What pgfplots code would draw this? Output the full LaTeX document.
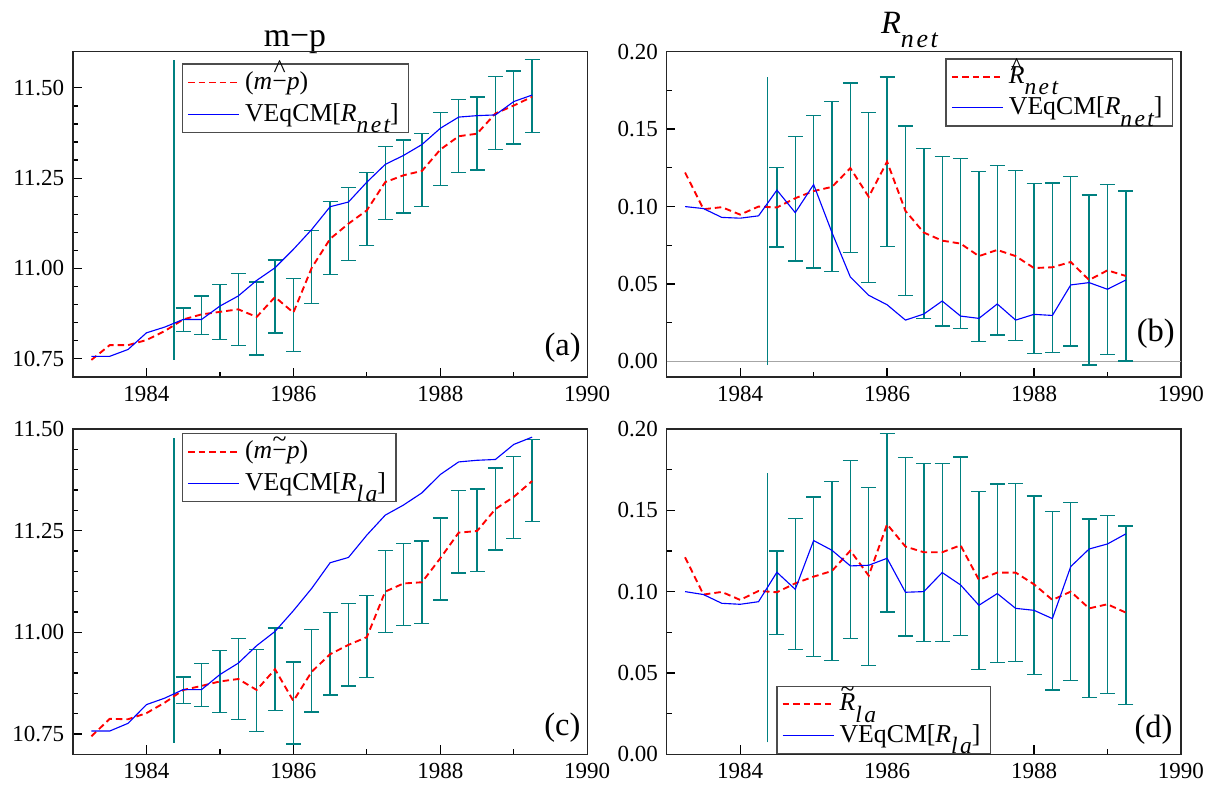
\documentclass[border=0pt]{standalone}
\usepackage{fontspec}
\setmainfont{Liberation Serif}
\usepackage{pgfplots}
\usepackage{pgfplotstable}
\pgfplotsset{compat=1.18}

\definecolor{errteal}{RGB}{0,128,128}
\definecolor{fcred}{RGB}{255,0,0}
\definecolor{fcblue}{RGB}{0,0,255}

% subscripts set the way the original software does it: big, low, spaced
\newcommand{\subsc}[2][9.4]{\raisebox{-0.45em}{\fontsize{#1}{#1}\selectfont\itshape\addfontfeature{LetterSpace=10}#2}}
\newcommand{\hatminus}{\ooalign{−\cr\hidewidth\raisebox{0.48em}{\char"5E}\hidewidth\cr}}
\newcommand{\tildeminus}{\ooalign{−\cr\hidewidth\raisebox{0.45em}{\char"7E}\hidewidth\cr}}
\newcommand{\hatR}{\ooalign{\textit{R}\cr\hidewidth\raisebox{0.3em}{\char"5E}\hidewidth\cr}}
\newcommand{\tildeR}{\ooalign{\textit{R}\cr\hidewidth\raisebox{0.5em}{\char"7E}\hidewidth\cr}}

% m-p: forecasts from the R_net model (a) and the R_la model (c), VEqCM path
\pgfplotstableread{
x       net    la     veq
1983.25 10.747 10.744 10.757
1983.50 10.788 10.787 10.757
1983.75 10.788 10.786 10.776
1984.00 10.802 10.801 10.822
1984.25 10.827 10.827 10.838
1984.50 10.859 10.858 10.859
1984.75 10.873 10.868 10.859
1985.00 10.880 10.879 10.896
1985.25 10.887 10.885 10.924
1985.50 10.866 10.858 10.967
1985.75 10.921 10.909 11.002
1986.00 10.878 10.831 11.053
1986.25 11.002 10.903 11.108
1986.50 11.082 10.946 11.171
1986.75 11.124 10.969 11.184
1987.00 11.161 10.988 11.239
1987.25 11.239 11.100 11.288
1987.50 11.258 11.120 11.313
1987.75 11.270 11.123 11.343
1988.00 11.329 11.182 11.388
1988.25 11.366 11.245 11.419
1988.50 11.373 11.249 11.423
1988.75 11.429 11.303 11.425
1989.00 11.451 11.333 11.462
1989.25 11.475 11.372 11.480
}\mpdata

% error bands for m-p (centre, half width)
\pgfplotstableread{
x       net     la      e
1984.50 10.858 10.857 0.033
1984.75 10.871 10.870 0.053
1985.00 10.880 10.879 0.076
1985.25 10.887 10.885 0.100
1985.50 10.862 10.857 0.101
1985.75 10.923 10.909 0.101
1986.00 10.871 10.826 0.101
1986.25 11.004 10.905 0.101
1986.50 11.084 10.947 0.101
1986.75 11.124 10.969 0.101
1987.00 11.164 10.990 0.101
1987.25 11.237 11.100 0.101
1987.50 11.255 11.118 0.101
1987.75 11.272 11.123 0.101
1988.00 11.330 11.180 0.101
1988.25 11.366 11.247 0.101
1988.50 11.374 11.251 0.101
1988.75 11.430 11.303 0.101
1989.00 11.446 11.331 0.101
1989.25 11.477 11.373 0.101
}\mperr

% R_net
\pgfplotstableread{
x       fc     veq
1983.25 0.1220 0.1000
1983.50 0.0983 0.0987
1983.75 0.0996 0.0930
1984.00 0.0948 0.0925
1984.25 0.1000 0.0940
1984.50 0.0994 0.1106
1984.75 0.1054 0.0961
1985.00 0.1100 0.1142
1985.25 0.1127 0.0832
1985.50 0.1248 0.0545
1985.75 0.1063 0.0427
1986.00 0.1290 0.0366
1986.25 0.0972 0.0267
1986.50 0.0832 0.0306
1986.75 0.0780 0.0390
1987.00 0.0761 0.0293
1987.25 0.0680 0.0278
1987.50 0.0720 0.0371
1987.75 0.0680 0.0267
1988.00 0.0603 0.0304
1988.25 0.0608 0.0297
1988.50 0.0642 0.0494
1988.75 0.0526 0.0509
1989.00 0.0588 0.0466
1989.25 0.0552 0.0526
}\netdata

\pgfplotstableread{
x       y      e
1984.50 0.0996 0.0257
1984.75 0.1051 0.0402
1985.00 0.1095 0.0492
1985.25 0.1131 0.0549
1985.50 0.1250 0.0547
1985.75 0.1058 0.0549
1986.00 0.1289 0.0548
1986.25 0.0972 0.0547
1986.50 0.0826 0.0548
1986.75 0.0777 0.0548
1987.00 0.0761 0.0548
1987.25 0.0677 0.0548
1987.50 0.0719 0.0548
1987.75 0.0684 0.0548
1988.00 0.0601 0.0548
1988.25 0.0605 0.0548
1988.50 0.0647 0.0548
1988.75 0.0526 0.0548
1989.00 0.0593 0.0548
1989.25 0.0552 0.0548
}\neterr

% R_la
\pgfplotstableread{
x       fc     veq
1983.25 0.1211 0.1000
1983.50 0.0982 0.0982
1983.75 0.0998 0.0928
1984.00 0.0949 0.0922
1984.25 0.1004 0.0938
1984.50 0.0996 0.1119
1984.75 0.1051 0.1014
1985.00 0.1092 0.1314
1985.25 0.1127 0.1254
1985.50 0.1252 0.1158
1985.75 0.1098 0.1162
1986.00 0.1414 0.1205
1986.25 0.1277 0.0996
1986.50 0.1242 0.1000
1986.75 0.1242 0.1117
1987.00 0.1285 0.1041
1987.25 0.1072 0.0916
1987.50 0.1117 0.0988
1987.75 0.1117 0.0897
1988.00 0.1045 0.0885
1988.25 0.0949 0.0834
1988.50 0.1000 0.1154
1988.75 0.0897 0.1262
1989.00 0.0922 0.1293
1989.25 0.0871 0.1355
}\ladata

\pgfplotstableread{
x       y      e
1984.50 0.0994 0.0256
1984.75 0.1048 0.0403
1985.00 0.1091 0.0491
1985.25 0.1128 0.0550
1985.50 0.1260 0.0548
1985.75 0.1094 0.0548
1986.00 0.1423 0.0548
1986.25 0.1275 0.0548
1986.50 0.1240 0.0548
1986.75 0.1240 0.0548
1987.00 0.1280 0.0548
1987.25 0.1069 0.0548
1987.50 0.1113 0.0548
1987.75 0.1117 0.0548
1988.00 0.1040 0.0548
1988.25 0.0943 0.0548
1988.50 0.1001 0.0548
1988.75 0.0898 0.0548
1989.00 0.0920 0.0548
1989.25 0.0855 0.0548
}\laerr

\pgfplotsset{
  /pgf/number format/assume math mode=true,
  panel/.style={
    scale only axis, width=205.7pt, height=130.1pt,
    xmin=1983, xmax=1990,
    xtick={1984,1986,1988,1990}, minor xtick={1985,1987,1989},
    tick align=inside, xtick pos=bottom, ytick pos=left,
    major tick length=3.5pt, minor tick length=2pt,
    tick style={black, line width=0.5pt},
    axis line style={black!85, line width=0.55pt},
    scaled ticks=false,
    ticklabel style={font=\fontsize{9.2}{10}\selectfont},
    x tick label style={/pgf/number format/1000 sep={}},
    y tick label style={/pgf/number format/fixed, /pgf/number format/fixed zerofill,
                        /pgf/number format/precision=2},
    legend cell align=left,
    legend style={draw=black!70, line width=0.6pt, fill=white,
                  font=\fontsize{10.3}{12}\selectfont, inner xsep=2pt, inner ysep=1pt,
                  row sep=0pt},
    legend image code/.code={\draw[#1] (0pt,0pt) -- (20.4pt,0pt);},
  },
  redline/.style={color=fcred, line width=0.75pt, dash pattern=on 2.6pt off 1.6pt},
  blueline/.style={color=fcblue, line width=0.45pt},
  fcline/.style={forget plot, color=errteal, line width=0.45pt},
  errbar/.style={forget plot, draw=none,
    error bars/.cd, y dir=both, y explicit, error mark=|,
    error bar style={draw=errteal, line width=0.55pt},
    error mark options={draw=errteal, mark size=3pt, line width=0.55pt}},
}
\tikzset{panellab/.style={anchor=south east, inner sep=0pt, font=\fontsize{13}{15}\selectfont}}

\begin{document}
\begin{tikzpicture}
\path[use as bounding box] (0,0) rectangle (485.6pt,314.8pt);

\node[anchor=base, font=\fontsize{13.5}{15}\selectfont] at (118pt,296.1pt) {m−p};
\node[anchor=base, font=\fontsize{13}{15}\selectfont] at (363.8pt,301.5pt) {\textit{R}\subsc[10.4]{net}};

% (a)
\begin{axis}[panel, at={(29.2pt,294.12pt)}, anchor=north west,
  ymin=10.70, ymax=11.60, ytick={10.75,11,11.25,11.5}, minor y tick num=4,
  legend style={at={(0.211,0.964)}, anchor=north west}]
\addplot[errbar] table[x=x, y=net, y error=e] {\mperr};
\addplot[fcline] coordinates {(1984.375,10.747) (1984.375,11.578)};
\addplot[redline] table[x=x, y=net] {\mpdata};
\addlegendentry{(\textit{m}\hatminus\textit{p})}
\addplot[blueline] table[x=x, y=veq] {\mpdata};
\addlegendentry{VEqCM[\textit{R}\subsc{net}]}
\node[panellab] at (rel axis cs:1,0) [xshift=-2.4pt, yshift=5.5pt] {(a)};
\end{axis}

% (b)
\begin{axis}[panel, at={(266.68pt,294.12pt)}, anchor=north west,
  ymin=-0.01, ymax=0.20, ytick={0,0.05,0.1,0.15,0.2}, minor y tick num=1,
  legend style={at={(0.985,0.980)}, anchor=north east}]
\addplot[forget plot, color=black!35, line width=0.7pt] coordinates {(1983,0) (1990,0)};
\addplot[errbar] table[x=x, y=y, y error=e] {\neterr};
\addplot[fcline] coordinates {(1984.375,-0.0024) (1984.375,0.1834)};
\addplot[redline] table[x=x, y=fc] {\netdata};
\addlegendentry{\hatR\subsc{net}}
\addplot[blueline] table[x=x, y=veq] {\netdata};
\addlegendentry{VEqCM[\textit{R}\subsc{net}]}
\node[panellab] at (rel axis cs:1,0) [xshift=-2.3pt, yshift=11.4pt] {(b)};
\end{axis}

% (c)
\begin{axis}[panel, at={(29.2pt,143.2pt)}, anchor=north west,
  ymin=10.70, ymax=11.50, ytick={10.75,11,11.25,11.5}, minor y tick num=4,
  legend style={at={(0.211,0.989)}, anchor=north west}]
\addplot[errbar] table[x=x, y=la, y error=e] {\mperr};
\addplot[fcline] coordinates {(1984.375,10.728) (1984.375,11.478)};
\addplot[redline] table[x=x, y=la] {\mpdata};
\addlegendentry{(\textit{m}\tildeminus\textit{p})}
\addplot[blueline] table[x=x, y=veq] {\mpdata};
\addlegendentry{VEqCM[\textit{R}\subsc{la}]}
\node[panellab] at (rel axis cs:1,0) [xshift=-2.5pt, yshift=4.4pt] {(c)};
\end{axis}

% (d)
\begin{axis}[panel, at={(266.68pt,143.2pt)}, anchor=north west,
  ymin=0, ymax=0.20, ytick={0,0.05,0.1,0.15,0.2}, minor y tick num=1,
  legend style={at={(0.2126,0)}, anchor=south west}]
\addplot[errbar] table[x=x, y=y, y error=e] {\laerr};
\addplot[fcline] coordinates {(1984.375,0.0073) (1984.375,0.1732)};
\addplot[redline] table[x=x, y=fc] {\ladata};
\addlegendentry{\tildeR\subsc{la}}
\addplot[blueline] table[x=x, y=veq] {\ladata};
\addlegendentry{VEqCM[\textit{R}\subsc{la}]}
\node[panellab] at (rel axis cs:1,0) [xshift=-3.2pt, yshift=3.7pt] {(d)};
\end{axis}
\end{tikzpicture}
\end{document}
